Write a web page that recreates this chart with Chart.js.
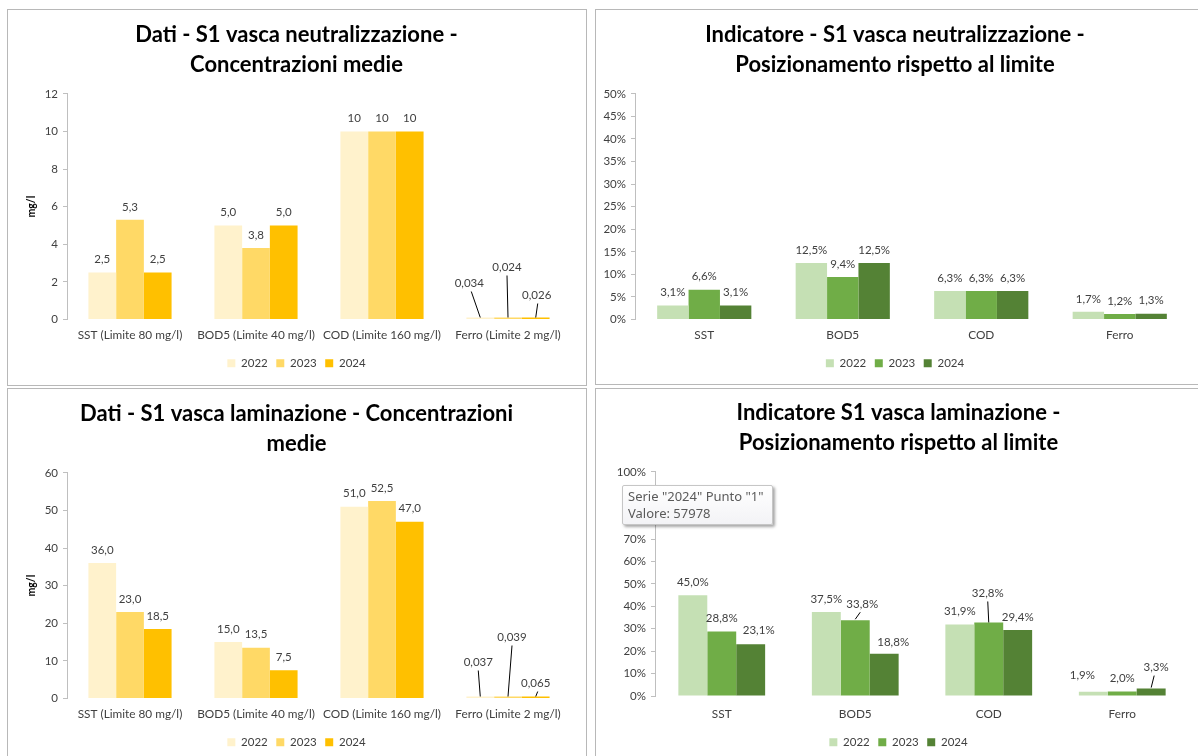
<!DOCTYPE html>
<html>
<head>
<meta charset="utf-8">
<script src="https://cdn.jsdelivr.net/npm/chart.js@4.4.1/dist/chart.umd.min.js"></script>
<style>
  html, body { margin: 0; padding: 0; background: #fff; overflow: hidden; }
  body { width: 1198px; height: 756px; position: relative; }
  .panel { position: absolute; border: 1px solid #b8b8b8; box-sizing: border-box; }
  .box { position: absolute; }
  .tip {
    position: absolute; left: 622px; top: 485px; width: 151px; height: 40px;
    box-sizing: border-box; border: 1px solid #c6c6c6; border-radius: 2px;
    background: linear-gradient(#ffffff, #f3f3f6);
    box-shadow: 2px 2px 3px rgba(0,0,0,0.35);
    font: 13px "Noto Sans", sans-serif; color: #5a5a5a;
    padding: 2px 0 0 5px; line-height: 17px;
  }
</style>
</head>
<body>
<div class="panel" style="left:7px;top:9px;width:580px;height:377px"></div>
<div class="panel" style="left:595px;top:9px;width:610px;height:376px"></div>
<div class="panel" style="left:7px;top:388px;width:580px;height:380px"></div>
<div class="panel" style="left:595px;top:388px;width:610px;height:380px"></div>

<div class="box" style="left:8px;top:10px;width:577px;height:374px"><canvas id="neutConc"></canvas></div>
<div class="box" style="left:596px;top:10px;width:602px;height:374px"><canvas id="neutPct"></canvas></div>
<div class="box" style="left:8px;top:389px;width:577px;height:374px"><canvas id="lamConc"></canvas></div>
<div class="box" style="left:596px;top:389px;width:602px;height:374px"><canvas id="lamPct"></canvas></div>

<div class="tip">Serie "2024" Punto "1"<br>Valore: 57978</div>

<script>
const years = ["2022", "2023", "2024"];

const concCategories = ["SST (Limite 80 mg/l)", "BOD5 (Limite 40 mg/l)", "COD (Limite 160 mg/l)", "Ferro (Limite 2 mg/l)"];
const pctCategories = ["SST", "BOD5", "COD", "Ferro"];

// S1 vasca neutralizzazione - mg/l
const neut2022 = [2.5, 5.0, 10, 0.034];
const neut2023 = [5.3, 3.8, 10, 0.024];
const neut2024 = [2.5, 5.0, 10, 0.026];
const neutDecimals = [1, 1, 0, 3];

// S1 vasca neutralizzazione - % rispetto al limite
const neutPct2022 = [3.1, 12.5, 6.3, 1.7];
const neutPct2023 = [6.6, 9.4, 6.3, 1.2];
const neutPct2024 = [3.1, 12.5, 6.3, 1.3];

// S1 vasca laminazione - mg/l
const lam2022 = [36.0, 15.0, 51.0, 0.037];
const lam2023 = [23.0, 13.5, 52.5, 0.039];
const lam2024 = [18.5, 7.5, 47.0, 0.065];
const lamDecimals = [1, 1, 1, 3];

// S1 vasca laminazione - % rispetto al limite
const lamPct2022 = [45.0, 37.5, 31.9, 1.9];
const lamPct2023 = [28.8, 33.8, 32.8, 2.0];
const lamPct2024 = [23.1, 18.8, 29.4, 3.3];

const yellows = ["#FFF2CC", "#FFD966", "#FFC000"];
const greens = ["#C5E0B4", "#70AD47", "#548235"];

const FONT = "Lato";
const TEXT = "#404040";

function itNum(v, dec) {
  return v.toFixed(dec).replace(".", ",");
}

// data labels above the bars; a few are moved by hand like in the sheet, with leader lines
function valueLabels(format, nudges) {
  return {
    id: "valueLabels",
    afterDatasetsDraw(chart) {
      const ctx = chart.ctx;
      ctx.save();
      ctx.font = "11.5px " + FONT;
      ctx.fillStyle = TEXT;
      ctx.strokeStyle = "#000";
      ctx.lineWidth = 1;
      ctx.textAlign = "center";
      ctx.textBaseline = "middle";
      chart.data.datasets.forEach((ds, di) => {
        chart.getDatasetMeta(di).data.forEach((bar, i) => {
          const n = (nudges[di] && nudges[di][i]) || { dx: 0, dy: -13 };
          const x = bar.x + n.dx;
          const y = bar.y + n.dy;
          ctx.fillText(format(ds.data[i], i), x, y);
          if (n.line) {
            ctx.beginPath();
            ctx.moveTo(x + n.line[0], y + 8);
            ctx.lineTo(bar.x + n.line[1], bar.y - n.line[2]);
            ctx.stroke();
          }
        });
      });
      ctx.restore();
    }
  };
}

function makeChart(id, o) {
  const datasets = years.map((y, k) => ({
    label: y,
    data: o.series[k],
    backgroundColor: o.colors[k],
    categoryPercentage: o.catPct,
    barPercentage: 1,
    minBarLength: 2
  }));
  return new Chart(document.getElementById(id), {
    type: "bar",
    data: { labels: o.labels, datasets },
    plugins: [valueLabels(o.format, o.nudges || [])],
    options: {
      responsive: true,
      maintainAspectRatio: false,
      animation: false,
      events: [],
      layout: { padding: { left: o.padLeft, right: o.padRight, top: 0, bottom: 5 } },
      scales: {
        x: {
          grid: { display: false, drawTicks: false },
          border: { display: false },
          ticks: { color: TEXT, font: { family: FONT, size: 11.8 }, padding: o.xPad, maxRotation: 0, autoSkip: false },
          afterFit(s) { s.height = o.xHeight; }
        },
        y: {
          min: 0,
          max: o.yMax,
          ticks: {
            stepSize: o.yStep,
            color: TEXT,
            font: { family: FONT, size: 11.5 },
            padding: 5,
            callback: o.yTick
          },
          grid: { drawOnChartArea: false, drawTicks: true, tickLength: 4, color: "#bfbfbf" },
          border: { color: "#bfbfbf" },
          title: o.yTitle
            ? { display: true, text: o.yTitle, color: "#000", font: { family: FONT, size: 10.5, weight: "bold" }, padding: { top: 17 - o.padLeft, bottom: 0 } }
            : { display: false },
          afterFit(s) { s.width = o.yWidth; }
        }
      },
      plugins: {
        tooltip: { enabled: false },
        title: {
          display: true,
          text: o.title,
          color: "#000",
          font: { family: FONT, size: 22, weight: "bold", lineHeight: 1.36 },
          padding: { top: o.titleTop, bottom: o.titleBottom }
        },
        legend: {
          position: "bottom",
          labels: {
            color: TEXT,
            font: { family: FONT, size: 11.5 },
            boxWidth: 8,
            boxHeight: 8,
            padding: 8.5
          }
        }
      }
    }
  });
}

makeChart("neutConc", {
  title: ["Dati - S1 vasca neutralizzazione -", "Concentrazioni medie"],
  labels: concCategories,
  series: [neut2022, neut2023, neut2024],
  colors: yellows,
  catPct: 0.66,
  yMax: 12, yStep: 2,
  yTick: v => v,
  yTitle: "mg/l",
  padLeft: 14, yWidth: 45, padRight: 14, xHeight: 29.5, xPad: 9,
  titleTop: 10, titleBottom: 14,
  format: (v, i) => itNum(v, neutDecimals[i]),
  nudges: [
    { 3: { dx: -11, dy: -34, line: [2, 0, 0] } },
    { 3: { dx: -1, dy: -50, line: [0, 0, 0] } },
    { 3: { dx: 1, dy: -22, line: [1, 0, 0] } }
  ]
});

makeChart("neutPct", {
  title: ["Indicatore - S1 vasca neutralizzazione -", "Posizionamento rispetto al limite"],
  labels: pctCategories,
  series: [neutPct2022, neutPct2023, neutPct2024],
  colors: greens,
  catPct: 0.68,
  yMax: 50, yStep: 5,
  yTick: v => v + "%",
  padLeft: 5, yWidth: 34, padRight: 9, xHeight: 29.5, xPad: 9,
  titleTop: 10, titleBottom: 14,
  format: v => itNum(v, 1) + "%"
});

makeChart("lamConc", {
  title: ["Dati - S1 vasca laminazione - Concentrazioni", "medie"],
  labels: concCategories,
  series: [lam2022, lam2023, lam2024],
  colors: yellows,
  catPct: 0.66,
  yMax: 60, yStep: 10,
  yTick: v => v,
  yTitle: "mg/l",
  padLeft: 14, yWidth: 45, padRight: 14, xHeight: 29.5, xPad: 9,
  titleTop: 10, titleBottom: 14,
  format: (v, i) => itNum(v, lamDecimals[i]),
  nudges: [
    { 3: { dx: -2, dy: -34, line: [0, 0, 0] } },
    { 3: { dx: 4, dy: -59, line: [0, 0, 0] } },
    { 3: { dx: 0, dy: -13, line: [2, 0, 0] } }
  ]
});

makeChart("lamPct", {
  title: ["Indicatore S1 vasca laminazione -", "Posizionamento rispetto al limite"],
  labels: pctCategories,
  series: [lamPct2022, lamPct2023, lamPct2024],
  colors: greens,
  catPct: 0.65,
  yMax: 100, yStep: 10,
  yTick: v => v + "%",
  padLeft: 12, yWidth: 47, padRight: 9, xHeight: 32, xPad: 11,
  titleTop: 9, titleBottom: 14,
  format: v => itNum(v, 1) + "%",
  nudges: [
    { 3: { dx: -11, dy: -16 } },
    { 1: { dx: 7, dy: -16, line: [-2, 0, 1] }, 2: { dx: -1, dy: -29, line: [0, 0, 0] } },
    { 0: { dx: 8, dy: -14 }, 1: { dx: 9, dy: -12 }, 3: { dx: 5, dy: -21, line: [-2, 0, 1] } }
  ]
});
</script>
</body>
</html>
